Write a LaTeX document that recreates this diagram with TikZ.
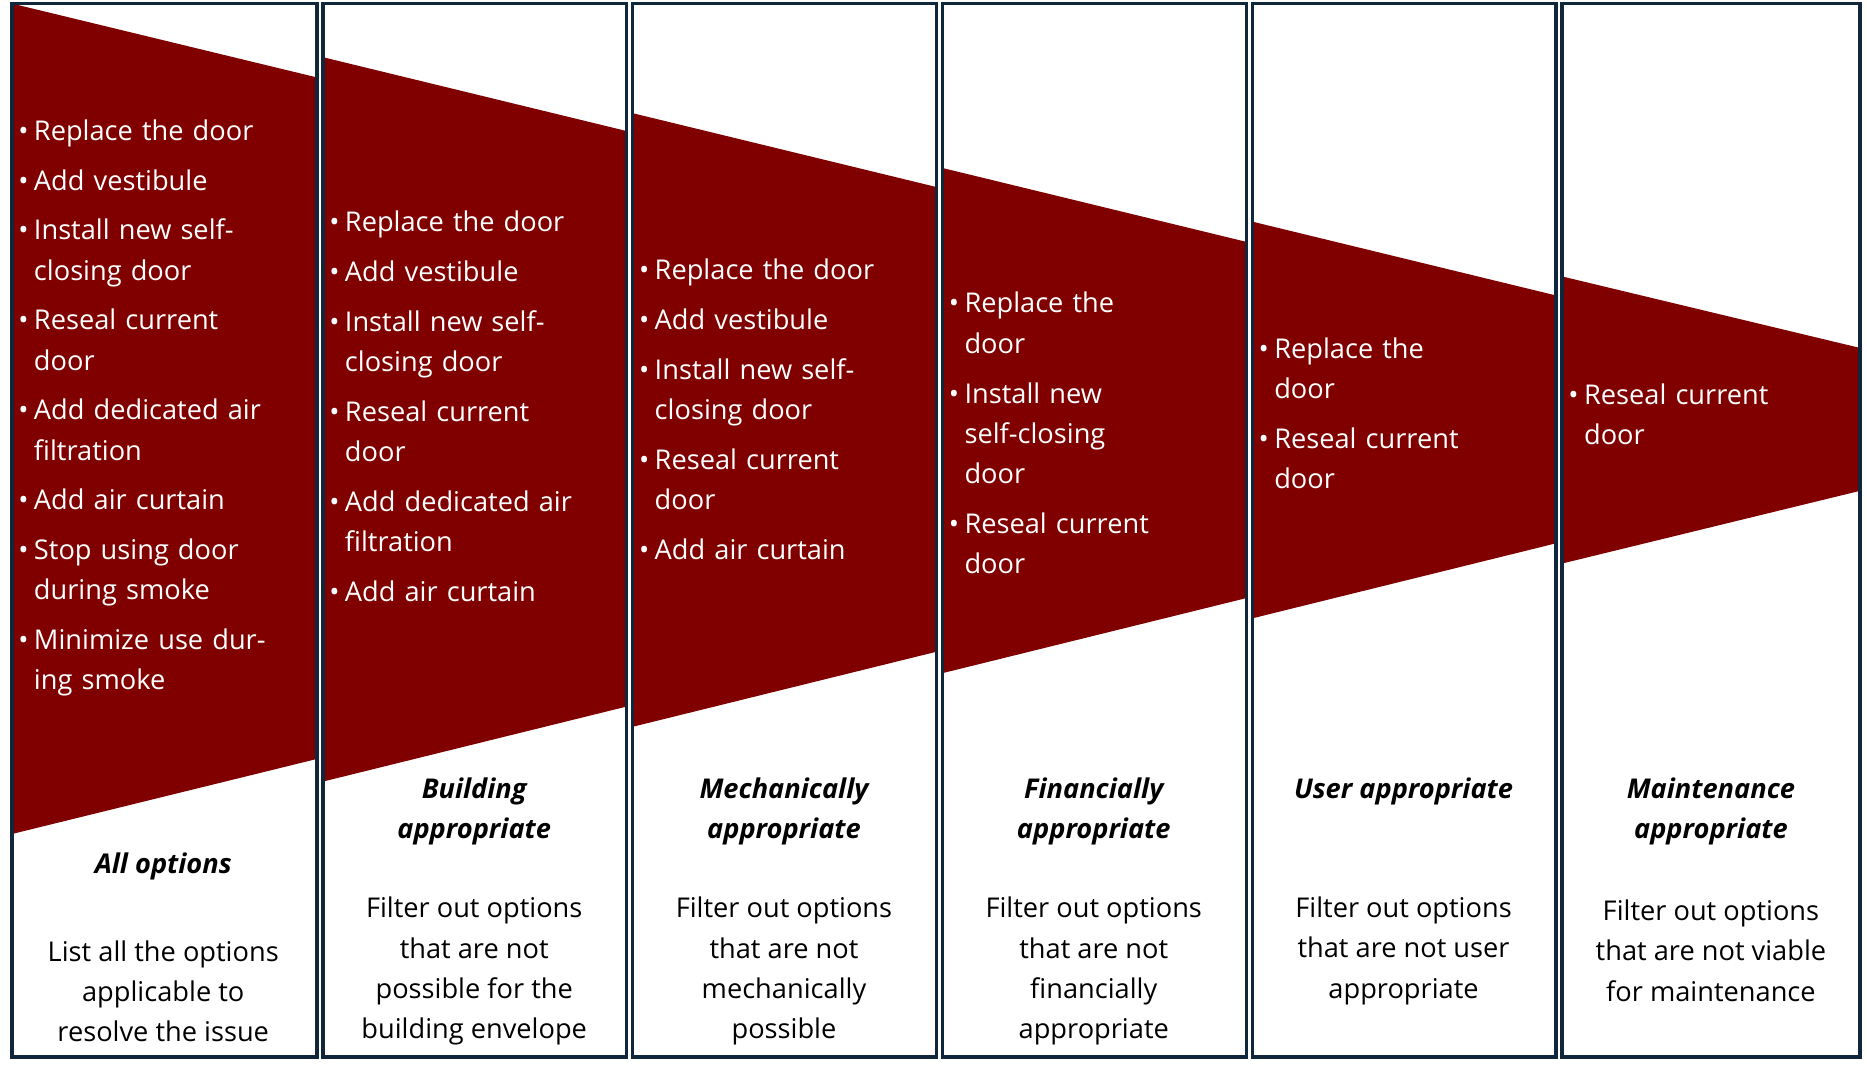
\documentclass[tikz,border=0pt]{standalone}
\usepackage{fontspec}
\setmainfont{Open Sans}
\definecolor{dred}{HTML}{800000}
\definecolor{navy}{HTML}{10263A}
\newcommand{\bi}[1]{\hangindent=7.5pt\hangafter=1\noindent\makebox[7.5pt][l]{•}#1\par\vspace{4.6pt}}
\tikzset{colbox/.style={draw=navy,line width=1.6pt},
lst/.style={anchor=north west,inner sep=0pt,text width=128pt,font=\fontsize{13}{19.2}\selectfont,text=white,align=left},
ttl/.style={font=\fontsize{13}{19.2}\selectfont\bfseries\itshape,align=center,inner sep=0pt},
dsc/.style={font=\fontsize{13}{19.2}\selectfont,align=center,inner sep=0pt}}
\begin{document}
\begin{tikzpicture}[x=0.02cm,y=-0.02cm]
\useasboundingbox (0,0) rectangle (1567,898);
\fill[dred] (10,3) -- (266,65) -- (266,637) -- (10,700) -- cycle;
\fill[dred] (271,48) -- (526,110) -- (526,593) -- (271,656) -- cycle;
\fill[dred] (531,95) -- (786,157) -- (786,547) -- (531,610) -- cycle;
\fill[dred] (791,141) -- (1046,203) -- (1046,502) -- (791,565) -- cycle;
\fill[dred] (1051,186) -- (1306,248) -- (1306,456) -- (1051,519) -- cycle;
\fill[dred] (1311,232) -- (1561,292) -- (1561,412) -- (1311,473) -- cycle;
\foreach \a/\b in {10/266,271/526,531/786,791/1046,1051/1306,1311/1561}
  \draw[colbox] (\a,3) rectangle (\b,887);
\node[lst] (l1) at (15,100) {\bi{Replace the door}\bi{Add vestibule}\bi{Install new self-closing door}\bi{Reseal current door}\bi{Add dedicated air filtration}\bi{Add air curtain}\bi{Stop using door during smoke}\bi{Minimize use during smoke}};
\node[lst] (l2) at (276,177) {\bi{Replace the door}\bi{Add vestibule}\bi{Install new self-closing door}\bi{Reseal current door}\bi{Add dedicated air filtration}\bi{Add air curtain}};
\node[lst] (l3) at (536,217) {\bi{Replace the door}\bi{Add vestibule}\bi{Install new self-closing door}\bi{Reseal current door}\bi{Add air curtain}};
\node[lst,text width=100pt] (l4) at (796,245) {\bi{Replace the door}\bi{Install new self-closing door}\bi{Reseal current door}};
\node[lst,text width=100pt] (l5) at (1056,283) {\bi{Replace the door}\bi{Reseal current door}};
\node[lst,text width=110pt] (l6) at (1316,322) {\bi{Reseal current door}};
\node[ttl] (t1) at (137,727) {All options};
\node[ttl] (t2) at (398,681) {Building\\appropriate};
\node[ttl] (t3) at (658,681) {Mechanically\\appropriate};
\node[ttl] (t4) at (918,681) {Financially\\appropriate};
\node[ttl] (t5) at (1178,664) {User appropriate};
\node[ttl] (t6) at (1436,681) {Maintenance\\appropriate};
\node[dsc] (d1) at (137,832) {List all the options\\applicable to\\resolve the issue};
\node[dsc] (d2) at (398,815) {Filter out options\\that are not\\possible for the\\building envelope};
\node[dsc] (d3) at (658,815) {Filter out options\\that are not\\mechanically\\possible};
\node[dsc] (d4) at (918,815) {Filter out options\\that are not\\financially\\appropriate};
\node[dsc] (d5) at (1178,798) {Filter out options\\that are not user\\appropriate};
\node[dsc] (d6) at (1436,798) {Filter out options\\that are not viable\\for maintenance};
\end{tikzpicture}
\end{document}
